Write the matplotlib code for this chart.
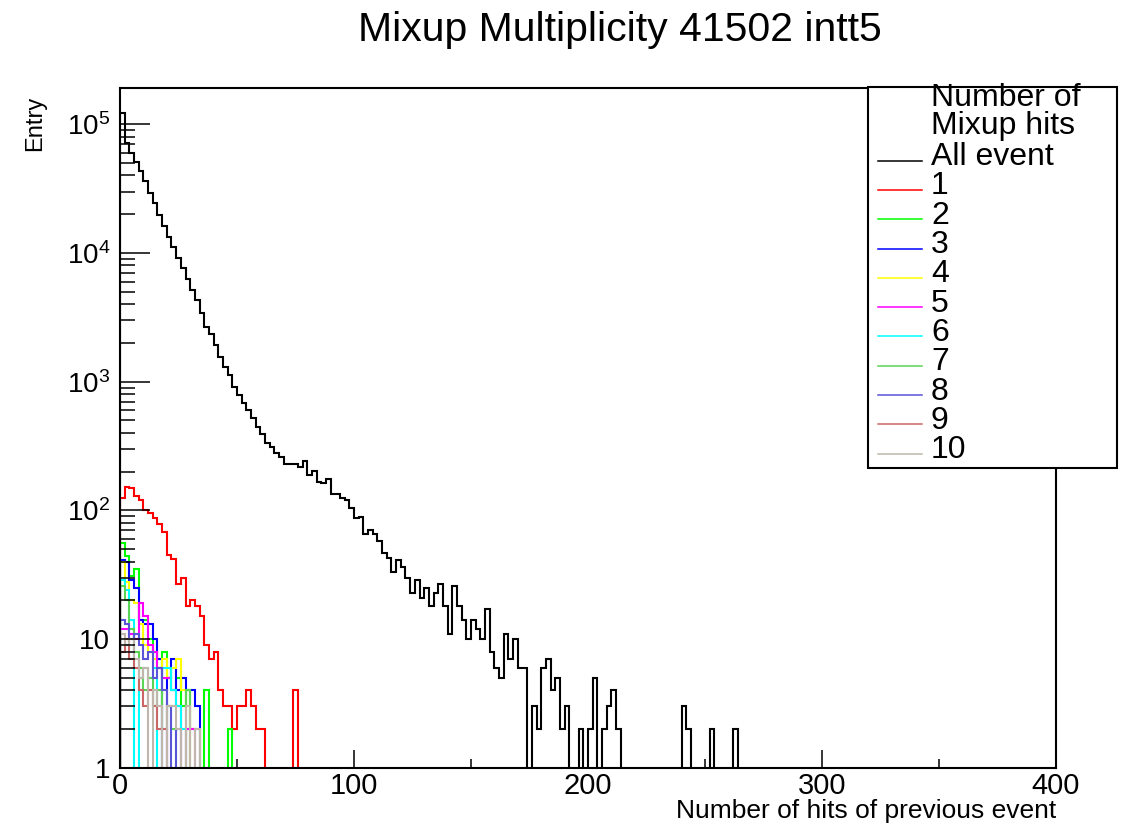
import numpy as np
import matplotlib
matplotlib.use("Agg")
import matplotlib.pyplot as plt
from matplotlib.lines import Line2D
from matplotlib.patches import Rectangle
from matplotlib.ticker import FixedLocator, FixedFormatter, LogLocator, NullFormatter

plt.rcParams['font.family'] = ['Liberation Sans', 'DejaVu Sans']
plt.rcParams['mathtext.fontset'] = 'custom'
plt.rcParams['mathtext.rm'] = 'Liberation Sans'

# histogram binning: 2 hits per bin, 0..400
bin_width = 2
n_bins = 200

# all events
all_event = [
    122000, 72000, 60000, 51000, 43000, 36000, 29400, 24300, 19700, 16200,
    13400, 11200, 9100, 7600, 6300, 5200, 4300, 3400, 2650, 2350,
    1930, 1550, 1310, 1130, 915, 788, 680, 603, 520, 447,
    390, 335, 310, 281, 261, 229, 229, 229, 216, 243,
    188, 204, 167, 162, 175, 134, 134, 125, 120, 104,
    87, 89, 66, 70, 66, 58, 47, 43, 33, 41,
    36, 30, 23, 29, 21, 25, 18, 23, 27, 18,
    11, 26, 18, 14, 10, 14, 12, 10, 17, 8,
    6, 5, 11, 7, 10, 6, 6, 0, 3, 2,
    6, 7, 4, 5, 2, 3, 0, 0, 2, 0,
    2, 5, 0, 2, 3, 4, 2, 0, 0, 0,
    0, 0, 0, 0, 0, 0, 0, 0, 0, 0,
    3, 2, 0, 0, 0, 0, 2, 0, 0, 0,
    0, 2,
]

# events split by number of mixup hits
mixup_1 = [124, 152, 148, 130, 120, 101, 96, 87, 79, 68,
           45, 42, 27, 30, 18, 20, 18, 15, 9, 7,
           8, 4, 3, 3, 2, 3, 3, 4, 3, 2,
           2, 0, 0, 0, 0, 0, 0, 4]
mixup_2 = [56, 44, 31, 35, 14, 14, 10, 8, 6, 8, 5, 4, 5, 3, 4, 2, 2, 0, 4, 0, 0, 0, 0, 2]
mixup_3 = [41, 40, 29, 25, 14, 13, 13, 10, 7, 0, 5, 7, 4, 5, 4, 4, 3]
mixup_4 = [40, 28, 20, 19, 13, 9, 8, 7, 6, 7, 5, 6, 7, 4, 3]
mixup_5 = [12, 12, 11, 10, 19, 15, 9, 8, 6, 5, 5, 4, 3, 0, 2, 2]
mixup_6 = [29, 24, 14, 0, 5, 6, 5, 6, 0, 6, 6, 4, 3, 2]
mixup_7 = [26, 20, 12, 8, 6, 4, 5, 3, 4, 2, 3, 2, 0, 0, 4]
mixup_8 = [14, 13, 10, 11, 9, 7, 8, 5, 6, 4, 3, 0, 2]
mixup_9 = [8, 10, 7, 6, 4, 3, 4, 3, 2, 2, 1]
mixup_10 = [11, 9, 10, 7, 5, 6, 0, 4, 3, 0, 3, 3, 2, 0, 3, 0, 2]

series = [all_event, mixup_1, mixup_2, mixup_3, mixup_4, mixup_5,
          mixup_6, mixup_7, mixup_8, mixup_9, mixup_10]
labels = ["All event", "1", "2", "3", "4", "5", "6", "7", "8", "9", "10"]
colors = ["#000000", "#ff0000", "#00ff00", "#0000ff", "#ffff00", "#ff00ff",
          "#00ffff", "#59d454", "#5954d8", "#cc6666", "#c0b6ac"]

W, H = 1129, 827
fig = plt.figure(figsize=(W / 100, H / 100), dpi=100)
fig.patch.set_facecolor("white")

# axes frame in pixel terms
x0, x1, y_top, y_bot = 120, 1056, 87.5, 767.8
ax = fig.add_axes([x0 / W, (H - y_bot) / H, (x1 - x0) / W, (y_bot - y_top) / H])

for vals, col in zip(series, colors):
    v = np.zeros(n_bins)
    v[:len(vals)] = vals
    edges = np.arange(n_bins + 1) * bin_width
    ax.stairs(v, edges, baseline=0, color=col, lw=1.5)

ax.set_yscale("log")
ax.set_xlim(0, 400)
ax.set_ylim(1, 1.93e5)

# y axis: decades, ROOT style labels
major_y = [1, 10, 100, 1e3, 1e4, 1e5]
major_y_lbl = ["1", "10", r"$\mathregular{10^{2}}$", r"$\mathregular{10^{3}}$",
               r"$\mathregular{10^{4}}$", r"$\mathregular{10^{5}}$"]
ax.yaxis.set_major_locator(FixedLocator(major_y))
ax.yaxis.set_major_formatter(FixedFormatter(major_y_lbl))
ax.yaxis.set_minor_locator(LogLocator(base=10, subs=np.arange(2, 10)))
ax.yaxis.set_minor_formatter(NullFormatter())

ax.xaxis.set_major_locator(FixedLocator([0, 100, 200, 300, 400]))
ax.xaxis.set_minor_locator(FixedLocator([50, 150, 250, 350]))

ax.tick_params(axis="y", which="major", direction="in", length=21.6, width=1.1,
               labelsize=20, pad=7, right=False)
ax.tick_params(axis="y", which="minor", direction="in", length=10.8, width=1.1, right=False)
ax.tick_params(axis="x", which="major", direction="in", length=13, width=1.1,
               labelsize=21, pad=3, top=False)
ax.tick_params(axis="x", which="minor", direction="in", length=6.5, width=1.1, top=False)
for sp in ax.spines.values():
    sp.set_linewidth(1.5)

# titles
fig.text(620 / W, 1 - 30 / H, "Mixup Multiplicity 41502 intt5",
         ha="center", va="center", fontsize=29.5)
fig.text(35 / W, 1 - 96 / H, "Entry", rotation=90, ha="center", va="top", fontsize=17)
fig.text(x1 / W, 1 - 811 / H, "Number of hits of previous event",
         ha="right", va="center", fontsize=19)

# legend box, drawn on top of the frame
lx0, lx1, ly0, ly1 = 868, 1117, 87, 468
fig.add_artist(Rectangle((lx0 / W, 1 - ly1 / H), (lx1 - lx0) / W, (ly1 - ly0) / H,
                         transform=fig.transFigure, facecolor="white",
                         edgecolor="black", lw=1.5, zorder=5))
fig.text(931 / W, 1 - 98 / H, "Number of", ha="left", va="center", fontsize=23, zorder=6)
fig.text(931 / W, 1 - 126 / H, "Mixup hits", ha="left", va="center", fontsize=23, zorder=6)
for i, (lab, col) in enumerate(zip(labels, colors)):
    yl = 160.7 + 29.3 * i
    fig.add_artist(Line2D([878 / W, 922 / W], [1 - yl / H, 1 - yl / H],
                          transform=fig.transFigure, color=col, lw=1.1, zorder=6))
    fig.text(931 / W, 1 - (yl - 3.5) / H, lab, ha="left", va="center",
             fontsize=23, zorder=6)

fig.savefig("out.png", dpi=100)
